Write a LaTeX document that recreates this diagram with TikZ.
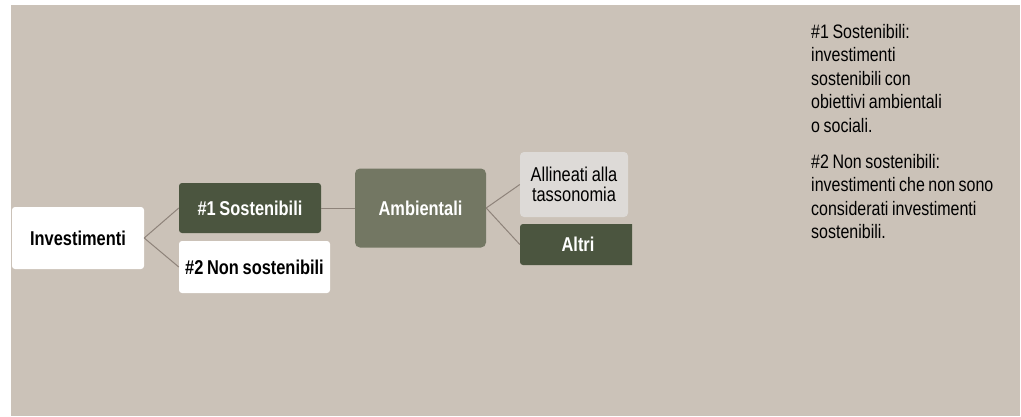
\documentclass[tikz,border=0pt]{standalone}
\usepackage{fontspec}
\setmainfont{Liberation Sans}[FakeStretch=0.82,WordSpace=0.8]
\definecolor{bgc}{HTML}{CBC2B8}
\definecolor{dkgreen}{HTML}{4B553F}
\definecolor{midgreen}{HTML}{737763}
\definecolor{lightg}{HTML}{DDDAD7}
\definecolor{linec}{HTML}{8E837A}
\begin{document}
\begin{tikzpicture}[x=1pt,y=-1pt,
  box/.style={rounded corners=3pt, inner sep=0pt, align=center,
    font=\fontsize{20}{20}\selectfont\bfseries},
  conn/.style={draw=linec, line width=1pt},
  note/.style={anchor=north west, inner sep=0pt, align=left,
    font=\fontsize{19.5}{23.5}\selectfont, text=black}]
\useasboundingbox (0,0) rectangle (1021,416);
\fill[bgc] (11,5) rectangle (1020,416);

\node[box, fill=white, text=black, minimum width=132pt, minimum height=62pt] (inv) at (78,238) {Investimenti};
\node[box, fill=dkgreen, text=white, minimum width=142pt, minimum height=50pt] (s1) at (250,208) {\#1 Sostenibili};
\node[box, fill=white, text=black, minimum width=151pt, minimum height=52pt] (s2) at (254.5,267) {\#2 Non sostenibili};
\node[box, rounded corners=5pt, fill=midgreen, text=white, minimum width=131pt, minimum height=79pt] (amb) at (420.5,208) {Ambientali};
\node[box, rounded corners=4pt, fill=lightg, text=black, minimum width=108pt, minimum height=65pt,
  font=\fontsize{20}{20}\selectfont] (all) at (574,184.5) {Allineati alla\\tassonomia};
\begin{scope}
  \clip (500,200) rectangle (632,280);
  \node[box, fill=dkgreen, text=white, minimum width=116pt, minimum height=41pt] (alt) at (578,244.5) {Altri};
\end{scope}

\draw[conn] (inv.east) -- (s1.west);
\draw[conn] (inv.east) -- (s2.west);
\draw[conn] (s1.east) -- (amb.west |- s1.east);
\draw[conn] (amb.east) -- (all.west);
\draw[conn] (amb.east) -- (alt.west);

\node[note] (n1) at (811,23.8) {\#1 Sostenibili:\\investimenti\\sostenibili con\\obiettivi ambientali\\o sociali.};
\node[note] (n2) at (811,153.8) {\#2 Non sostenibili:\\investimenti che non sono\\considerati investimenti\\sostenibili.};
\end{tikzpicture}
\end{document}
